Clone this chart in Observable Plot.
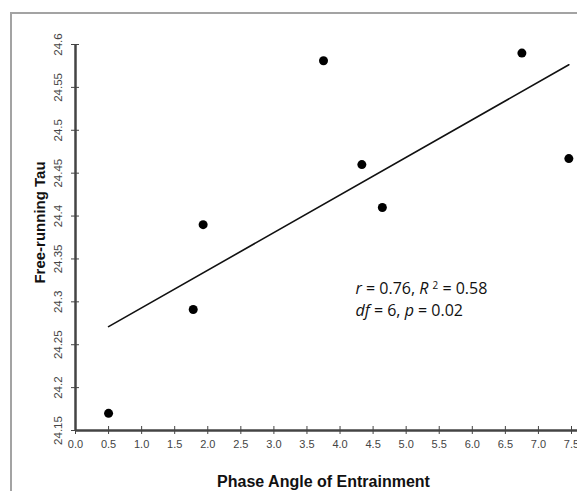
<!DOCTYPE html>
<html><head><meta charset="utf-8">
<script src="https://cdn.jsdelivr.net/npm/d3@7"></script>
<script src="https://cdn.jsdelivr.net/npm/@observablehq/plot@0.6"></script>
<style>
html,body{margin:0;padding:0;background:#fff;overflow:hidden}
#wrap{position:relative;width:577px;height:491px;overflow:hidden}
#border{position:absolute;left:10px;top:12px;width:700px;height:700px;border:2px solid #a3a3a3;pointer-events:none}
#chart{position:absolute;left:0;top:0}
</style></head><body><div id="wrap"><div id="border"></div><div id="chart"></div></div>
<script>
const phaseAngle = [0.5, 1.78, 1.93, 3.75, 4.33, 4.64, 6.75, 7.46];
const tau = [24.17, 24.291, 24.39, 24.581, 24.46, 24.41, 24.59, 24.467];
const xTicks = [0, 0.5, 1, 1.5, 2, 2.5, 3, 3.5, 4, 4.5, 5, 5.5, 6, 6.5, 7, 7.5];
const yTicks = [24.15, 24.2, 24.25, 24.3, 24.35, 24.4, 24.45, 24.5, 24.55, 24.6];
const xLabel = "Phase Angle of Entrainment";
const yLabel = "Free-running Tau";
const statLines = ["r = 0.76, R² = 0.58", "df = 6, p = 0.02"];

const data = phaseAngle.map((x, i) => ({x, y: tau[i]}));
const axisColor = "#444";

const chart = Plot.plot({
  width: 577, height: 491,
  marginLeft: 75, marginRight: 6, marginTop: 44, marginBottom: 61,
  style: {fontFamily: "'Liberation Sans', Arial, sans-serif", background: "transparent", overflow: "visible"},
  x: {domain: [xTicks[0], xTicks[xTicks.length - 1]]},
  y: {domain: [yTicks[0], yTicks[yTicks.length - 1]]},
  marks: [
    Plot.axisX({ticks: xTicks, tickFormat: d3.format(".1f"), tickSize: 0, tickPadding: 10, fontSize: 11, color: axisColor, label: null}),
    Plot.axisY({ticks: yTicks, tickFormat: d => String(d), tickSize: 0, tickPadding: 14, tickRotate: -90, fontSize: 11.5, color: axisColor, label: null}),
    Plot.ruleY([yTicks[0]], {stroke: axisColor, strokeWidth: 2.5, insetRight: -8}),
    Plot.ruleX([xTicks[0]], {stroke: axisColor, strokeWidth: 2.5}),
    Plot.ruleX(xTicks, {x: d => d, y1: yTicks[0], y2: yTicks[0], insetTop: -4, insetBottom: -4, stroke: axisColor, strokeWidth: 1}),
    Plot.ruleY(yTicks, {y: d => d, x1: xTicks[0], x2: xTicks[0], insetLeft: -4, insetRight: -4, stroke: axisColor, strokeWidth: 1}),
    Plot.linearRegressionY(data, {x: "x", y: "y", ci: 0, stroke: "#111", strokeWidth: 1.6}),
    Plot.dot(data, {x: "x", y: "y", r: 4.5, fill: "#000", stroke: null}),
    Plot.text([yLabel], {frameAnchor: "left", rotate: -90, dx: -35, dy: -15, textAnchor: "middle", fontWeight: "bold", fontSize: 15, fill: "#111"}),
    Plot.text([xLabel], {frameAnchor: "bottom", dy: 56, textAnchor: "middle", fontWeight: "bold", fontSize: 16, fill: "#111"}),
    Plot.text([statLines[0]], {frameAnchor: "top-left", dx: 280, dy: 238, textAnchor: "start", fontSize: 16, fontFamily: "'Open Sans', sans-serif", fill: "#111"}),
    Plot.text([statLines[1]], {frameAnchor: "top-left", dx: 280, dy: 260, textAnchor: "start", fontSize: 16, fontFamily: "'Open Sans', sans-serif", fill: "#111"})
  ]
});
document.getElementById("chart").appendChild(chart);

// rich formatting of the statistics lines (italic symbols, superscript)
d3.select(chart).selectAll("text").each(function() {
  const t = this.textContent;
  if (!statLines.includes(t)) return;
  const sel = d3.select(this);
  sel.text(null);
  const parts = t.split(/([A-Za-z]+|²)/).filter(s => s.length);
  let raised = false;
  for (const p of parts) {
    if (p === "²") {
      sel.append("tspan").text(" ");
      sel.append("tspan").attr("font-size", "0.62em").attr("dy", "-0.5em").text("2");
      raised = true;
    } else {
      const ts = sel.append("tspan").text(p);
      if (raised) { ts.attr("dy", "0.31em"); raised = false; }
      if (/^[A-Za-z]+$/.test(p)) ts.attr("font-style", "italic");
    }
  }
});
</script>
</body></html>
